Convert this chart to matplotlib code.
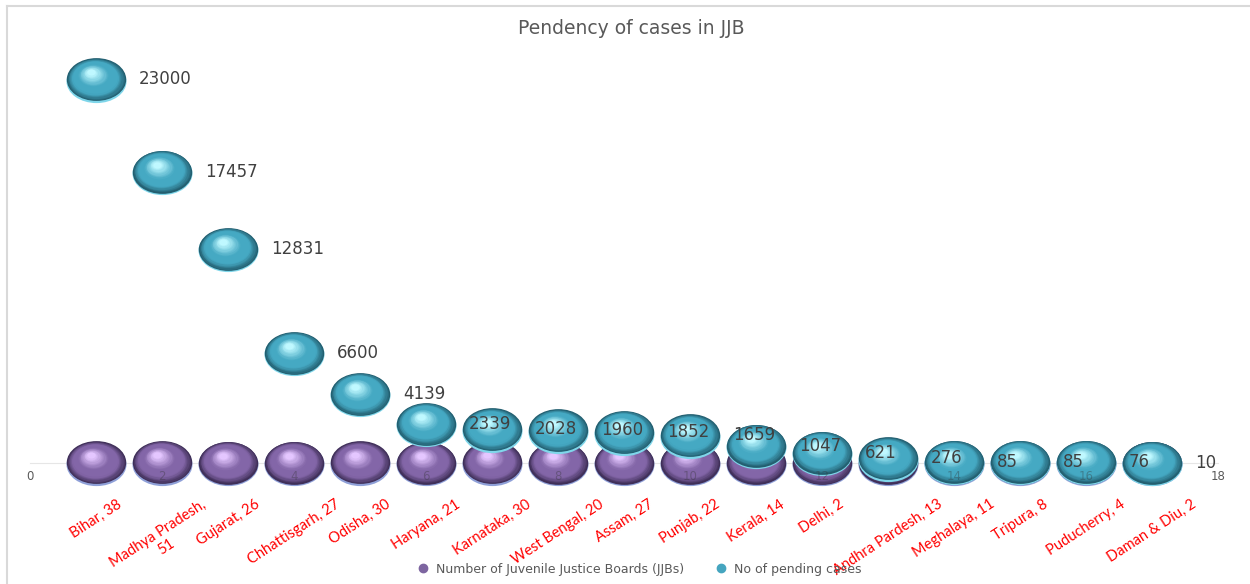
import numpy as np
import matplotlib
matplotlib.use("Agg")
import matplotlib.pyplot as plt
from matplotlib.path import Path
from matplotlib.transforms import Affine2D, ScaledTranslation
from matplotlib.lines import Line2D
from matplotlib.colors import to_rgb

# data
states = ["Bihar, 38", "Madhya Pradesh,\n51", "Gujarat, 26", "Chhattisgarh, 27",
          "Odisha, 30", "Haryana, 21", "Karnataka, 30", "West Bengal, 20",
          "Assam, 27", "Punjab, 22", "Kerala, 14", "Delhi, 2",
          "Andhra Pardesh, 13", "Meghalaya, 11", "Tripura, 8", "Puducherry, 4",
          "Daman & Diu, 2"]
jjb_count = [38, 51, 26, 27, 30, 21, 30, 20, 27, 22, 14, 2, 13, 11, 8, 4, 2]
pending_cases = [23000, 17457, 12831, 6600, 4139, 2339, 2028, 1960, 1852,
                 1659, 1047, 621, 276, 85, 85, 76, 10]

x = np.arange(1, len(states) + 1)

fig = plt.figure(figsize=(12.5, 5.84), dpi=100)
ax = fig.add_axes([30 / 1250, 1 - 463 / 584, 1188 / 1250, 417 / 584])

ellipse = Path.unit_circle().transformed(Affine2D().scale(1, 0.72))


def mix(c1, c2, t):
    a, b = np.array(to_rgb(c1)), np.array(to_rgb(c2))
    return tuple(a + (b - a) * t)


def ball(xs, ys, rim, dark, mid, light, z):
    # light rim at the bottom edge
    off = ScaledTranslation(0, -1.5 / 100, fig.dpi_scale_trans)
    ax.scatter(xs, ys, s=1866, marker=ellipse, color=rim, linewidths=0,
               transform=ax.transData + off, zorder=z, clip_on=False)
    # fake 3d sphere: stacked ellipses drifting to the upper left
    n = 22
    for k in range(n):
        t = k / (n - 1)
        f = 0.99 - 0.85 * t
        if t < 0.25:
            col = mix(dark, mid, t / 0.25)
        elif t < 0.55:
            col = mid
        else:
            col = mix(mid, light, (t - 0.55) / 0.45)
        off = ScaledTranslation(-5 / 100 * t, 7 / 100 * t, fig.dpi_scale_trans)
        ax.scatter(xs, ys, s=1866 * f ** 2, marker=ellipse, color=col,
                   linewidths=0, transform=ax.transData + off,
                   zorder=z + 0.01 + k * 0.01, clip_on=False)


ball(x, jjb_count, "#8fa0d8", "#3f2f58", "#8366a8", "#e4c6ff", 3)
ball(x, pending_cases, "#7fd6ea", "#235f70", "#45a9c3", "#bff8ff", 4)

for xi, v in zip(x, pending_cases):
    ax.annotate(str(v), (xi, v), xytext=(31, 0), textcoords="offset points",
                ha="left", va="center", fontsize=12, color="#404040", zorder=20)

# axis numbers that sit behind the bubbles show through faintly
for t in range(2, 17, 2):
    ax.text(t, 0, str(t), transform=ax.transData + ScaledTranslation(0, -14 / 100, fig.dpi_scale_trans),
            ha="center", va="center", fontsize=8.5, color="#303030", alpha=0.35, zorder=15)

for xi, lab in zip(x, states):
    ax.text(xi, -0.082, lab, transform=ax.get_xaxis_transform(), rotation=33,
            ha="center", va="top", color="red", fontsize=10.5, family="Lato",
            multialignment="center")

ax.set_xlim(0, 18)
ax.set_ylim(0, 25000)
ax.set_xticks(range(0, 19, 2))
ax.set_xticklabels(["0"] + [""] * 8 + ["18"])
ax.tick_params(axis="x", length=0, pad=5, labelsize=8.5, labelcolor="#595959")
ax.set_yticks([])
for s in ["top", "right", "left"]:
    ax.spines[s].set_visible(False)
ax.spines["bottom"].set_color("#e6e6e6")
ax.set_facecolor("none")

fig.text(631 / 1250, 1 - 28 / 584, "Pendency of cases in JJB", ha="center",
         va="center", fontsize=13.5, color="#595959")

# chart border bits
fig.add_artist(Line2D([7 / 1250, 1], [1 - 6 / 584] * 2, color="#d9d9d9", lw=1.5))
fig.add_artist(Line2D([7 / 1250] * 2, [0, 1 - 6 / 584], color="#d9d9d9", lw=1.5))

handles = [Line2D([], [], marker="o", ls="", color="#7d65a0", markersize=6),
           Line2D([], [], marker="o", ls="", color="#45a5bf", markersize=6)]
fig.legend(handles, ["Number of Juvenile Justice Boards (JJBs)", "No of pending cases"],
           loc="center", bbox_to_anchor=(636 / 1250, 1 - 569 / 584), ncol=2,
           frameon=False, fontsize=9, handletextpad=0.0, columnspacing=2.0,
           labelcolor="#595959")

fig.savefig("out.png", dpi=100)
